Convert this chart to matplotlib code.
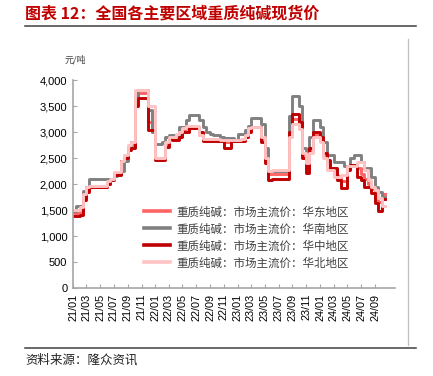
import matplotlib

matplotlib.use("Agg")
import matplotlib.pyplot as plt
import matplotlib.dates as mdates
from matplotlib.lines import Line2D
from matplotlib.ticker import FuncFormatter, MultipleLocator
import pandas as pd

plt.rcParams["font.family"] = ["Noto Sans CJK SC", "DejaVu Sans"]

# half-month observations starting 2021-01-01
dates = pd.date_range("2021-01-01", periods=92, freq="SMS")
tick_dates = pd.date_range("2021-01-01", "2024-09-01", freq="2MS")

east = [1450, 1450, 1500, 1750, 1900, 1950, 1950, 1950, 1950, 1950, 2000, 2100,
        2200, 2200, 2450, 2500, 2700, 2750, 3700, 3750, 3750, 3750, 3200, 3000,
        2500, 2500, 2500, 2750, 2900, 2880, 2900, 2950, 3050, 3080, 3100, 3100,
        3100, 2950, 2850, 2850, 2850, 2850, 2850, 2850, 2800, 2800, 2830, 2830,
        2830, 2850, 2920, 3050, 3100, 3100, 3100, 2850, 2450, 2200, 2200, 2200,
        2200, 2200, 2200, 2950, 3250, 3250, 3100, 2550, 2300, 2650, 2950, 2950,
        2850, 2550, 2400, 2300, 2200, 2150, 2050, 2050, 2300, 2350, 2350, 2300,
        2200, 2100, 2000, 1900, 1750, 1650, 1800, 1800]
south = [1480, 1570, 1570, 1870, 1950, 2100, 2100, 2100, 2100, 2100, 2100, 2100,
         2150, 2200, 2250, 2450, 2700, 2800, 3700, 3800, 3800, 3800, 3430, 3000,
         2770, 2770, 2800, 2900, 2940, 2940, 2950, 3100, 3100, 3230, 3330, 3330,
         3330, 3230, 3100, 3000, 2970, 2950, 2950, 2900, 2880, 2880, 2880, 2850,
         2970, 2970, 3040, 3120, 3270, 3270, 3270, 3150, 2700, 2250, 2250, 2250,
         2250, 2250, 2250, 3300, 3700, 3700, 3500, 2700, 2400, 2900, 3230, 3230,
         3100, 2800, 2560, 2560, 2430, 2430, 2430, 2340, 2340, 2500, 2560, 2560,
         2430, 2300, 2300, 2140, 1950, 1850, 1760, 1760]
central = [1380, 1380, 1410, 1700, 1850, 1940, 1940, 1940, 1940, 1940, 2000, 2070,
           2170, 2170, 2450, 2500, 2650, 2700, 3500, 3650, 3650, 3650, 3040, 3040,
           2460, 2460, 2460, 2720, 2880, 2850, 2850, 2900, 3010, 3010, 3080, 3080,
           3080, 3000, 2820, 2820, 2820, 2820, 2820, 2820, 2690, 2690, 2820, 2820,
           2820, 2820, 2900, 3000, 3100, 3100, 3100, 2800, 2400, 2080, 2100, 2100,
           2100, 2100, 2100, 3000, 3350, 3350, 3200, 2500, 2210, 2700, 3000, 3000,
           2900, 2600, 2460, 2300, 2300, 2080, 1920, 1920, 2270, 2370, 2370, 2140,
           2080, 1950, 1950, 1820, 1640, 1480, 1710, 1710]
north = [1500, 1500, 1550, 1800, 1940, 1970, 1970, 1970, 1970, 1970, 2050, 2100,
         2240, 2240, 2450, 2550, 2750, 2800, 3800, 3800, 3800, 3800, 3500, 3500,
         2500, 2500, 2500, 2800, 2900, 2900, 2970, 3000, 3080, 3120, 3120, 3120,
         3120, 2950, 2870, 2870, 2870, 2870, 2870, 2850, 2850, 2850, 2850, 2850,
         2850, 2870, 2950, 3080, 3100, 3100, 3100, 2900, 2500, 2250, 2270, 2270,
         2270, 2270, 2270, 2900, 3150, 3150, 3050, 2600, 2400, 2600, 2900, 2900,
         2800, 2500, 2270, 2270, 2140, 2140, 2170, 2170, 2340, 2340, 2340, 2430,
         2430, 2270, 2080, 1950, 1890, 1730, 1570, 1570]

series = [
    ("重质纯碱：市场主流价：华东地区", east, "#FF6464"),
    ("重质纯碱：市场主流价：华南地区", south, "#808080"),
    ("重质纯碱：市场主流价：华中地区", central, "#C00000"),
    ("重质纯碱：市场主流价：华北地区", north, "#FFC3C3"),
]

fig = plt.figure(figsize=(4.33, 3.76), dpi=100)
ax = fig.add_axes([0.1686, 0.234, 0.7434, 0.553])

for label, values, color in series:
    ax.plot(dates, values, drawstyle="steps-post", color=color, lw=2.1, label=label)

ax.set_ylim(0, 4000)
ax.yaxis.set_major_locator(MultipleLocator(500))
ax.yaxis.set_major_formatter(FuncFormatter(lambda v, _: f"{int(v):,}"))
ax.set_xlim(pd.Timestamp("2021-01-01"), pd.Timestamp("2024-11-28"))
ax.set_xticks(tick_dates)
ax.xaxis.set_major_formatter(mdates.DateFormatter("%y/%m"))

for side in ["top", "right"]:
    ax.spines[side].set_visible(False)
for side in ["left", "bottom"]:
    ax.spines[side].set_color("#A6A6A6")
    ax.spines[side].set_linewidth(1.2)
ax.tick_params(axis="y", direction="in", length=3, color="#A6A6A6", labelsize=8, pad=4)
ax.tick_params(axis="x", direction="in", length=3, color="#A6A6A6", labelsize=7.8, rotation=90, pad=4)
for lbl in ax.get_xticklabels() + ax.get_yticklabels():
    lbl.set_family(["Liberation Sans", "DejaVu Sans"])

handles = [Line2D([], [], color=c, lw=2.6) for _, _, c in series]
ax.legend(handles, [s[0] for s in series], loc="upper left", bbox_to_anchor=(0.205, 0.42),
          frameon=False, fontsize=8.3, handlelength=2.3, handletextpad=0.5,
          labelspacing=0.35, borderaxespad=0, labelcolor="#404040")

fig.text(0.058, 0.965, "图表 12：全国各主要区域重质纯碱现货价", color="#C00000",
         fontsize=11.5, fontweight="bold", va="center", ha="left")
fig.text(0.15, 0.84, "元/吨", fontsize=6.5, color="#404040", va="center", ha="left")
fig.text(0.058, 0.042, "资料来源：隆众资讯", fontsize=9, color="#222222", va="center", ha="left")
fig.add_artist(Line2D([0.058, 0.96], [0.93, 0.93], color="#404040", lw=1.1))
fig.add_artist(Line2D([0.058, 0.96], [0.074, 0.074], color="#404040", lw=1.1))
fig.add_artist(Line2D([0.942, 0.942], [0.083, 0.895], color="#BFBFBF", lw=0.9))

fig.savefig("out.png", dpi=100)
